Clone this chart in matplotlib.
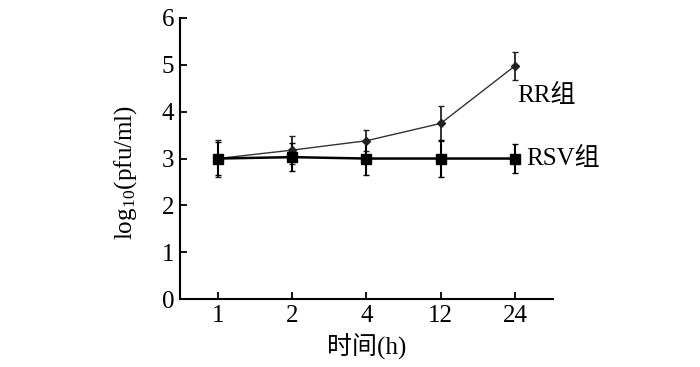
import matplotlib
matplotlib.use("Agg")
import matplotlib.pyplot as plt

plt.rcParams['font.family'] = ['Liberation Serif', 'Noto Sans CJK SC']
plt.rcParams['mathtext.fontset'] = 'stix'

hours = ['1', '2', '4', '12', '24']
rr = [3.0, 3.18, 3.38, 3.75, 4.98]
rr_err = [0.4, 0.3, 0.22, 0.37, 0.3]
rsv = [3.0, 3.03, 3.0, 3.0, 3.0]
rsv_err = [0.35, 0.3, 0.36, 0.4, 0.3]

x = list(range(len(hours)))

fig = plt.figure(figsize=(7, 3.67), dpi=100)
ax = fig.add_axes([0.257, 0.185, 0.533, 0.766])

ax.errorbar(x, rr, yerr=rr_err, color='#333333', lw=1.0, marker='D', ms=4,
            mfc='#222222', mec='#222222', ecolor='#222222', elinewidth=1.3,
            capsize=2, capthick=1.0)
ax.errorbar(x, rsv, yerr=rsv_err, color='black', lw=1.8, marker='s', ms=7,
            ecolor='black', elinewidth=1.5, capsize=2, capthick=1.0)

ax.text(4.03, 4.35, 'RR组', fontsize=18, va='center', ha='left')
ax.text(4.15, 3.0, 'RSV组', fontsize=18, va='center', ha='left')

ax.set_xlim(-0.51, 4.51)
ax.set_ylim(0, 6)
ax.set_xticks(x)
ax.set_xticklabels(hours)
ax.set_yticks(range(7))
ax.spines['top'].set_visible(False)
ax.spines['right'].set_visible(False)
ax.spines['left'].set_linewidth(1.5)
ax.spines['bottom'].set_linewidth(1.5)
ax.tick_params(direction='in', length=5, width=1.3, labelsize=18, pad=4)

ax.set_xlabel('时间(h)', fontsize=18, labelpad=5)
ax.set_ylabel('log$_{\\mathregular{10}}$(pfu/ml)', fontsize=18)
ax.yaxis.set_label_coords(-0.11, 0.45)

fig.savefig('out.png', dpi=100)
